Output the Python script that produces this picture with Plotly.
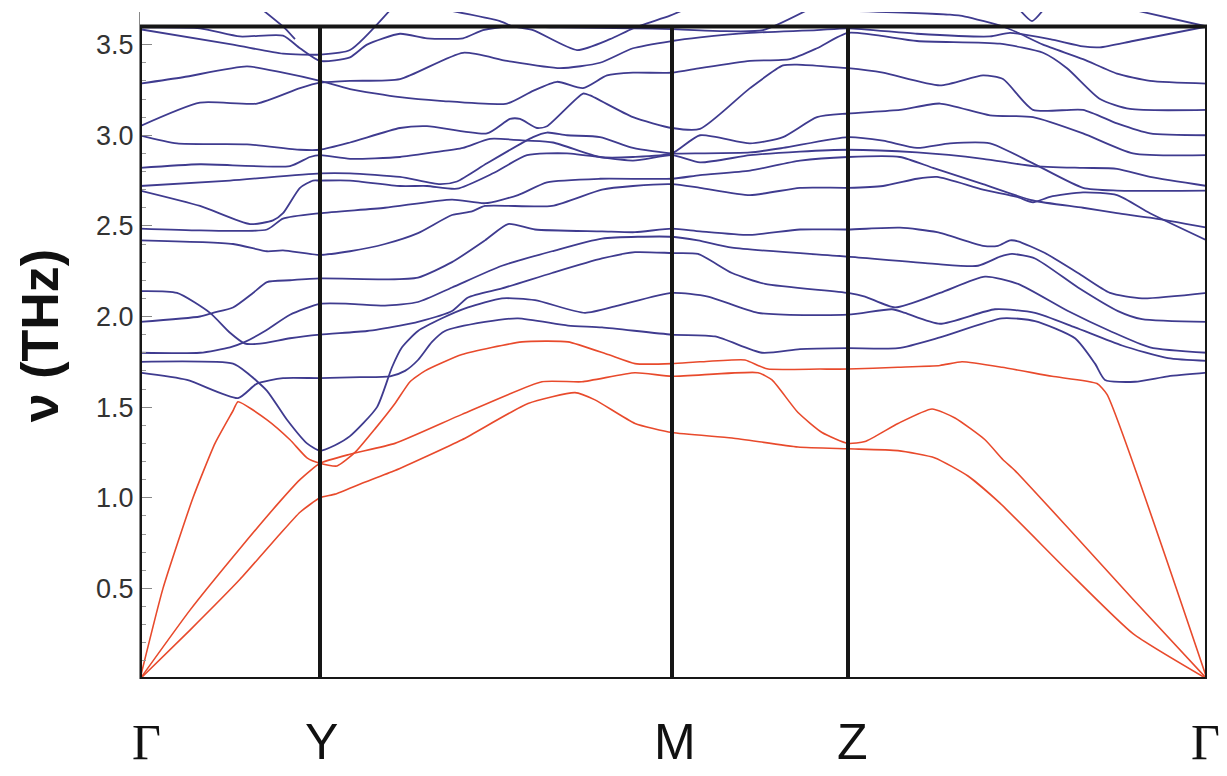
import plotly.graph_objects as go

# ---------------- data (path coordinate k, frequency nu in THz) ----------------
sym_labels = ["Γ", "Y", "M", "Z", "Γ"]
sym_pos = [0, 180, 532, 708, 1067]

y_tick_vals = [0.5, 1.0, 1.5, 2.0, 2.5, 3.0, 3.5]
y_tick_text = ["0.5", "1.0", "1.5", "2.0", "2.5", "3.0", "3.5"]

# acoustic branches (red)
ac_1 = [(0, 0), (23, 0.5), (53, 1.0), (75, 1.30), (93, 1.48), (98, 1.53), (127, 1.43), (150, 1.32),
        (167, 1.22), (180, 1.19), (197, 1.175), (215, 1.25), (235, 1.38), (255, 1.52), (270, 1.64),
        (285, 1.70), (322, 1.79), (382, 1.86), (428, 1.86), (468, 1.79), (495, 1.74), (532, 1.74),
        (560, 1.75), (605, 1.76), (618, 1.73), (628, 1.71), (680, 1.71), (708, 1.71), (758, 1.72),
        (800, 1.73), (822, 1.75), (862, 1.72), (912, 1.67), (957, 1.63), (967, 1.57), (1067, 0)]
ac_2 = [(0, 0), (50, 0.38), (100, 0.72), (140, 0.98), (160, 1.10), (180, 1.19), (210, 1.24),
        (255, 1.30), (322, 1.46), (402, 1.64), (442, 1.64), (495, 1.69), (532, 1.67), (618, 1.69),
        (632, 1.65), (658, 1.47), (682, 1.36), (708, 1.30), (725, 1.31), (758, 1.41), (792, 1.49),
        (815, 1.44), (845, 1.32), (863, 1.21), (875, 1.15), (927, 0.84), (993, 0.44), (1067, 0)]
ac_3 = [(0, 0), (50, 0.27), (100, 0.55), (140, 0.80), (160, 0.92), (180, 1.00), (195, 1.02),
        (222, 1.08), (255, 1.15), (322, 1.32), (388, 1.52), (435, 1.58), (455, 1.54), (495, 1.41),
        (532, 1.36), (592, 1.33), (658, 1.28), (708, 1.27), (758, 1.26), (795, 1.22), (828, 1.12),
        (860, 0.97), (927, 0.60), (993, 0.25), (1067, 0)]

# optical branches (blue)
op_01 = [(0, 1.69), (47, 1.65), (98, 1.55), (117, 1.63), (143, 1.66), (180, 1.66), (220, 1.665),
         (250, 1.67), (265, 1.70), (278, 1.76), (292, 1.86), (305, 1.92), (345, 1.97), (378, 1.99),
         (428, 1.95), (462, 1.94), (532, 1.90), (575, 1.89), (622, 1.80), (660, 1.82), (708, 1.825),
         (758, 1.825), (800, 1.885), (862, 1.99), (895, 1.975), (935, 1.88), (955, 1.74), (965, 1.65),
         (995, 1.64), (1028, 1.67), (1067, 1.69)]
op_02 = [(0, 1.75), (93, 1.74), (107, 1.69), (127, 1.59), (147, 1.43), (167, 1.30), (180, 1.26),
         (195, 1.29), (210, 1.34), (237, 1.50), (252, 1.72), (262, 1.83), (278, 1.92), (302, 1.99),
         (328, 2.05), (362, 2.10), (395, 2.09), (445, 2.02), (478, 2.06), (532, 2.13), (568, 2.11),
         (618, 2.02), (708, 2.01), (752, 2.04), (765, 2.02), (800, 1.96), (855, 2.04), (895, 2.02),
         (935, 1.94), (982, 1.84), (1028, 1.77), (1067, 1.755)]
op_03 = [(0, 2.14), (37, 2.13), (70, 2.02), (90, 1.91), (105, 1.85), (120, 1.85), (150, 1.88),
         (180, 1.90), (227, 1.92), (260, 1.95), (278, 1.97), (312, 2.03), (328, 2.105), (362, 2.155),
         (412, 2.24), (462, 2.32), (495, 2.355), (532, 2.35), (558, 2.345), (592, 2.24), (625, 2.18),
         (708, 2.13), (725, 2.11), (755, 2.05), (800, 2.13), (845, 2.22), (878, 2.18), (928, 2.03),
         (970, 1.92), (1010, 1.83), (1067, 1.80)]
op_04 = [(0, 1.80), (60, 1.80), (90, 1.83), (105, 1.86), (125, 1.92), (150, 2.01), (180, 2.07),
         (210, 2.07), (245, 2.06), (278, 2.08), (312, 2.16), (362, 2.28), (412, 2.36), (462, 2.43),
         (532, 2.44), (558, 2.42), (592, 2.38), (708, 2.33), (795, 2.29), (838, 2.28), (860, 2.33),
         (872, 2.345), (895, 2.32), (938, 2.16), (978, 2.03), (1002, 1.985), (1067, 1.97)]
op_05 = [(0, 1.97), (60, 2.00), (73, 2.02), (93, 2.05), (113, 2.13), (127, 2.19), (150, 2.20),
         (180, 2.21), (245, 2.205), (278, 2.215), (312, 2.30), (345, 2.42), (368, 2.51), (395, 2.48),
         (462, 2.47), (495, 2.465), (532, 2.485), (560, 2.47), (610, 2.45), (660, 2.48), (708, 2.48),
         (760, 2.49), (797, 2.465), (843, 2.39), (858, 2.39), (870, 2.42), (878, 2.415), (905, 2.35),
         (938, 2.24), (970, 2.13), (1002, 2.10), (1067, 2.13)]
op_06 = [(0, 2.42), (93, 2.40), (127, 2.36), (143, 2.365), (180, 2.34), (210, 2.36), (245, 2.40),
         (278, 2.46), (312, 2.56), (332, 2.58), (345, 2.61), (412, 2.61), (462, 2.70), (493, 2.72),
         (532, 2.73), (560, 2.71), (610, 2.67), (660, 2.71), (708, 2.71), (743, 2.72), (777, 2.76),
         (797, 2.77), (843, 2.70), (877, 2.66), (893, 2.63), (910, 2.66), (943, 2.685), (977, 2.67),
         (1010, 2.57), (1067, 2.42)]
op_07 = [(0, 2.485), (60, 2.475), (127, 2.48), (143, 2.54), (180, 2.57), (245, 2.60), (312, 2.645),
         (345, 2.625), (378, 2.67), (407, 2.74), (460, 2.76), (532, 2.76), (560, 2.78), (610, 2.805),
         (660, 2.86), (708, 2.88), (760, 2.88), (793, 2.82), (843, 2.73), (893, 2.64), (943, 2.60),
         (977, 2.57), (1010, 2.545), (1067, 2.49)]
op_08 = [(0, 2.695), (60, 2.61), (110, 2.51), (133, 2.53), (143, 2.57), (160, 2.71), (173, 2.75),
         (180, 2.75), (210, 2.75), (260, 2.72), (287, 2.72), (317, 2.705), (353, 2.79), (387, 2.89),
         (427, 2.90), (493, 2.86), (532, 2.89), (560, 2.85), (610, 2.89), (660, 2.91), (708, 2.92),
         (777, 2.905), (843, 2.87), (893, 2.83), (943, 2.82), (977, 2.815), (1010, 2.77), (1067, 2.72)]
op_09 = [(0, 2.72), (90, 2.75), (180, 2.79), (210, 2.79), (260, 2.77), (300, 2.73), (317, 2.745),
         (347, 2.845), (393, 2.99), (407, 3.015), (427, 3.00), (460, 2.99), (493, 2.93), (532, 2.90),
         (560, 2.90), (610, 2.905), (643, 2.93), (708, 2.99), (743, 2.97), (777, 2.93), (810, 2.955),
         (850, 2.955), (893, 2.845), (943, 2.71), (977, 2.695), (1067, 2.695)]
op_10 = [(0, 2.82), (60, 2.84), (150, 2.83), (170, 2.88), (180, 2.89), (210, 2.87), (260, 2.88),
         (293, 2.905), (323, 2.93), (350, 2.98), (387, 2.97), (413, 2.96), (460, 2.88), (493, 2.88),
         (532, 2.90), (560, 3.00), (610, 2.955), (643, 2.99), (677, 3.10), (708, 3.12), (760, 3.14),
         (800, 3.175), (850, 3.11), (893, 3.10), (943, 3.01), (993, 2.90), (1067, 2.89)]
op_11 = [(0, 3.00), (37, 2.955), (107, 2.95), (160, 2.92), (180, 2.92), (210, 2.96), (260, 3.04),
         (287, 3.05), (347, 3.01), (370, 3.09), (380, 3.09), (397, 3.04), (407, 3.05), (443, 3.23),
         (450, 3.22), (493, 3.10), (532, 3.04), (560, 3.035), (610, 3.26), (643, 3.385), (657, 3.39),
         (708, 3.37), (743, 3.345), (800, 3.275), (843, 3.33), (863, 3.31), (893, 3.14), (943, 3.14),
         (977, 3.065), (1010, 3.01), (1067, 3.00)]
op_12 = [(0, 3.285), (43, 3.32), (107, 3.38), (143, 3.345), (180, 3.30), (210, 3.255), (260, 3.21),
         (300, 3.19), (367, 3.175), (393, 3.245), (417, 3.295), (443, 3.26), (467, 3.33), (493, 3.345),
         (532, 3.345), (560, 3.37), (610, 3.41), (650, 3.42), (677, 3.48), (708, 3.565), (777, 3.52),
         (860, 3.505), (903, 3.455), (927, 3.37), (960, 3.20), (990, 3.145), (1067, 3.14)]
op_13 = [(0, 3.05), (60, 3.18), (117, 3.175), (160, 3.26), (180, 3.29), (210, 3.30), (260, 3.31),
         (323, 3.455), (367, 3.41), (420, 3.37), (460, 3.40), (493, 3.48), (532, 3.52), (560, 3.54),
         (610, 3.565), (677, 3.58), (708, 3.59), (777, 3.56), (850, 3.545), (870, 3.565), (910, 3.53),
         (943, 3.49), (960, 3.485), (993, 3.52), (1067, 3.60)]
op_14 = [(0, 3.595), (60, 3.59), (100, 3.545), (143, 3.55), (160, 3.48), (180, 3.41), (210, 3.43),
         (227, 3.50), (260, 3.56), (287, 3.535), (323, 3.535), (343, 3.58), (370, 3.60), (420, 3.595),
         (493, 3.59), (532, 3.585), (580, 3.575), (623, 3.58), (667, 3.69)]
op_15 = [(0, 3.585), (93, 3.50), (143, 3.45), (180, 3.445), (210, 3.47), (250, 3.69)]
op_16 = [(123, 3.69), (145, 3.59), (155, 3.53)]
op_17 = [(308, 3.69), (360, 3.63), (373, 3.60), (393, 3.58), (437, 3.47), (470, 3.53), (493, 3.59),
         (530, 3.66), (543, 3.69)]
op_18 = [(692, 3.69), (810, 3.665), (825, 3.655), (863, 3.60), (880, 3.56), (903, 3.50), (943, 3.42),
         (977, 3.34), (1010, 3.30), (1067, 3.285)]
op_19 = [(880, 3.69), (892, 3.63), (903, 3.69)]
op_20 = [(995, 3.69), (1067, 3.60)]

acoustic = [ac_1, ac_2, ac_3]
optical = [op_01, op_02, op_03, op_04, op_05, op_06, op_07, op_08, op_09, op_10,
           op_11, op_12, op_13, op_14, op_15, op_16, op_17, op_18, op_19, op_20]

# ---------------- figure ----------------
BLUE = "#3f3b8f"
RED = "#e84a2c"
FRAME = "#161616"

fig = go.Figure()
for band in optical:
    fig.add_trace(go.Scatter(x=[p[0] for p in band], y=[p[1] for p in band], mode="lines",
                             line=dict(color=BLUE, width=1.8, shape="spline", smoothing=0.6),
                             hoverinfo="skip", showlegend=False))
for band in acoustic:
    fig.add_trace(go.Scatter(x=[p[0] for p in band], y=[p[1] for p in band], mode="lines",
                             line=dict(color=RED, width=1.6, shape="spline", smoothing=0.5),
                             hoverinfo="skip", showlegend=False))

Y_TOP = 3.6
shapes = []
for xp in sym_pos:
    shapes.append(dict(type="line", xref="x", yref="y", x0=xp, x1=xp, y0=0, y1=Y_TOP,
                       line=dict(color=FRAME, width=4), layer="above"))
for yv in (0, Y_TOP):
    shapes.append(dict(type="line", xref="x", yref="y", x0=sym_pos[0], x1=sym_pos[-1], y0=yv, y1=yv,
                       line=dict(color=FRAME, width=4), layer="above"))
shapes.append(dict(type="line", xref="x", yref="y", x0=0, x1=0, y0=-0.07, y1=0,
                   line=dict(color="#777777", width=1)))

annotations = []
label_shift = [6, 1, 3, 4, -2]
for lab, xp, sh in zip(sym_labels, sym_pos, label_shift):
    fam = "Liberation Serif" if lab == "Γ" else "Liberation Sans"
    annotations.append(dict(x=xp, y=-0.094, xref="x", yref="paper", text=lab, showarrow=False,
                            xanchor="center", yanchor="middle", xshift=sh, borderpad=0,
                            font=dict(family=fam, size=50, color="#111111")))
annotations.append(dict(x=-0.0937, y=0.514, xref="paper", yref="paper", text="<b>ν (THz)</b>",
                        showarrow=False, textangle=-90, xanchor="center", yanchor="middle",
                        font=dict(family="Liberation Sans", size=52, color="#111111")))

fig.update_layout(
    width=1227, height=776,
    margin=dict(l=140, r=20, t=12, b=97),
    paper_bgcolor="white", plot_bgcolor="white",
    shapes=shapes, annotations=annotations,
    xaxis=dict(range=[0, 1067], showgrid=False, zeroline=False, showticklabels=False,
               ticks="", showline=False, fixedrange=True),
    yaxis=dict(range=[0, 3.68], showgrid=False, zeroline=False, showline=True,
               linecolor="#888888", linewidth=1, ticks="inside", ticklen=12, tickwidth=1,
               tickcolor="#888888", tickvals=y_tick_vals, ticktext=y_tick_text,
               tickfont=dict(family="Liberation Sans", size=27, color="#333333"),
               minor=dict(ticks="inside", ticklen=6, tickcolor="#999999", dtick=0.1, tick0=0),
               fixedrange=True),
)

fig.write_html("out.html")
